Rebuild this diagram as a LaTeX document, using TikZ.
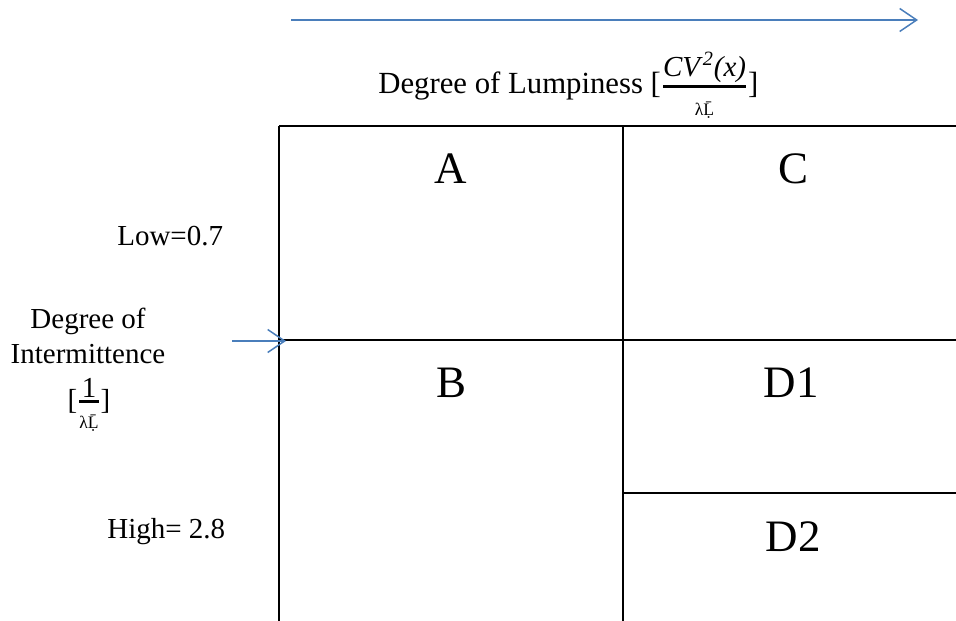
\documentclass[tikz,border=0pt]{standalone}
\usepackage{amsmath}
\usepackage{fontspec}
\setmainfont{Liberation Serif}
\usetikzlibrary{arrows.meta}
\definecolor{axisblue}{RGB}{74,126,187}
\newcommand{\lamL}{λ\d{\={L}}}

\begin{document}
\begin{tikzpicture}[
    x=0.02cm, y=-0.02cm,
    lbl/.style={inner sep=0pt, font=\fontsize{16.5}{19.9}\selectfont},
    cell/.style={inner sep=0pt, font=\fontsize{25.6}{30}\selectfont},
    gridline/.style={line width=1.15pt},
    axis/.style={draw=axisblue, line width=0.85pt, -{Straight Barb[length=3.4mm,width=4.6mm]}}
  ]
    \useasboundingbox (0,0) rectangle (956,621);
    % grid corners
    \coordinate (tl) at (279,126);
    \coordinate (tm) at (623,126);
    \coordinate (tr) at (956,126);
    \coordinate (ml) at (279,340);
    \coordinate (mm) at (623,340);
    \coordinate (mr) at (956,340);
    \coordinate (dm) at (623,493);
    \coordinate (dr) at (956,493);
    \coordinate (bl) at (279,621);
    \coordinate (bm) at (623,621);
    \draw[gridline] (tl) -- (tr);
    \draw[gridline] (ml) -- (mr);
    \draw[gridline] (dm) -- (dr);
    \draw[gridline] (tl) -- (bl);
    \draw[gridline] (tm) -- (bm);
    % cells
    \node[cell] (a) at (451,168.5) {A};
    \node[cell] (c) at (793,169) {C};
    \node[cell] (b) at (451,383) {B};
    \node[cell] (d1) at (791,383) {D1};
    \node[cell] (d2) at (793,537) {D2};
    % axis labels
    \node[lbl, font=\fontsize{17.5}{21}\selectfont, anchor=base west] (lumpy) at (378,94)
      {Degree of Lumpiness [$\genfrac{}{}{1.5pt}{1}{\text{\fontsize{16.5}{18}\selectfont\itshape CV\/\textsuperscript{2}(x)\/}}{\text{\fontsize{10}{12}\selectfont\raisebox{-6.3pt}{\lamL}}}$]};
    \node[lbl, anchor=base west] (low) at (117,246) {Low=0.7};
    \node[lbl, anchor=base west] (high) at (107,538) {High= 2.8};
    \node[lbl, align=center, anchor=north] (inter) at (88,308) {Degree of\\Intermittence};
    \node[lbl, anchor=base] (interfrac) at (89,409)
      {[$\genfrac{}{}{1.5pt}{1}{\text{\fontsize{16.5}{18}\selectfont 1}}{\text{\fontsize{10}{12}\selectfont\raisebox{-5pt}{\lamL}}}$]};
    % arrows
    \coordinate (xs) at (291,20);
    \coordinate (xe) at (918,20);
    \coordinate (ys) at (232,341);
    \coordinate (ye) at (286,341);
    \draw[axis] (xs) -- (xe);
    \draw[axis] (ys) -- (ye);
  \end{tikzpicture}
\end{document}
